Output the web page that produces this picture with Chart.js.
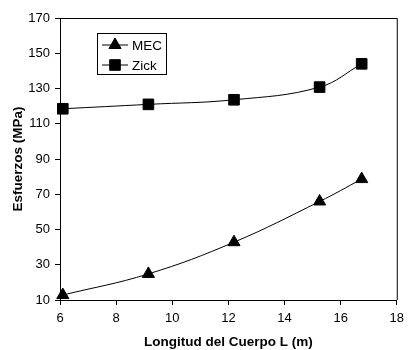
<!DOCTYPE html>
<html>
<head>
<meta charset="utf-8">
<script src="https://cdn.jsdelivr.net/npm/chart.js@4.4.0/dist/chart.umd.min.js"></script>
<style>
  html, body { margin: 0; padding: 0; background: #fff; }
  #wrap { width: 410px; height: 350px; position: relative; }
</style>
</head>
<body>
<div id="wrap"><canvas id="chart" width="410" height="350"></canvas></div>
<script>
// Data
const lengths = [6.1, 9.15, 12.2, 15.25, 16.75];
const mecValues = [12.8, 24.8, 42.8, 65.9, 78.6];
const zickValues = [118.5, 121, 123.6, 130.8, 144];
const xTicks = [6, 8, 10, 12, 14, 16, 18];
const yTicks = [10, 30, 50, 70, 90, 110, 130, 150, 170];

const FONT = 'Arial, "Liberation Sans", sans-serif';

const toPoints = (xs, ys) => xs.map((x, i) => ({ x: x, y: ys[i] }));

// plot frame (top + right edges)
const frame = {
    id: 'frame',
    afterDraw(chart) {
        const { ctx, chartArea: a } = chart;
        ctx.save();
        ctx.strokeStyle = '#000';
        ctx.lineWidth = 1;
        ctx.beginPath();
        ctx.moveTo(a.left, a.top + 0.5);
        ctx.lineTo(a.right + 0.5, a.top + 0.5);
        ctx.lineTo(a.right + 0.5, a.bottom);
        ctx.stroke();
        ctx.restore();
    }
};

// legend box with line + marker, like the original
const boxLegend = {
    id: 'boxLegend',
    afterDraw(chart) {
        const ctx = chart.ctx;
        const x0 = 97, y0 = 33, w = 69, h = 41;
        ctx.save();
        ctx.fillStyle = '#fff';
        ctx.fillRect(x0, y0, w, h);
        ctx.strokeStyle = '#000';
        ctx.lineWidth = 1;
        ctx.strokeRect(x0 + 0.5, y0 + 0.5, w, h);
        chart.data.datasets.forEach((ds, i) => {
            const cy = y0 + 12 + i * 20;
            ctx.beginPath();
            ctx.moveTo(x0 + 5, cy);
            ctx.lineTo(x0 + 31, cy);
            ctx.strokeStyle = '#000';
            ctx.stroke();
            ctx.fillStyle = '#000';
            Chart.helpers.drawPoint(ctx, {
                pointStyle: ds.pointStyle,
                radius: ds.pointRadius,
                borderWidth: 1
            }, x0 + 18, cy);
            ctx.font = '13.5px ' + FONT;
            ctx.textBaseline = 'middle';
            ctx.fillText(ds.label, x0 + 35, cy + 1);
        });
        ctx.restore();
    }
};

new Chart(document.getElementById('chart').getContext('2d'), {
    type: 'scatter',
    data: {
        datasets: [
            {
                label: 'MEC',
                data: toPoints(lengths, mecValues),
                showLine: true,
                tension: 0.4,
                borderColor: '#000',
                borderWidth: 1,
                pointStyle: 'triangle',
                pointRadius: 7,
                pointBackgroundColor: '#000',
                pointBorderColor: '#000'
            },
            {
                label: 'Zick',
                data: toPoints(lengths, zickValues),
                showLine: true,
                tension: 0.4,
                borderColor: '#000',
                borderWidth: 1,
                pointStyle: 'rect',
                pointRadius: 7.5,
                pointBackgroundColor: '#000',
                pointBorderColor: '#000'
            }
        ]
    },
    options: {
        responsive: false,
        animation: false,
        clip: false,
        layout: { padding: { left: 10, right: 8, top: 18, bottom: 0 } },
        plugins: {
            legend: { display: false },
            tooltip: { enabled: false }
        },
        scales: {
            x: {
                type: 'linear',
                min: xTicks[0],
                max: xTicks[xTicks.length - 1],
                afterBuildTicks: s => { s.ticks = xTicks.map(v => ({ value: v })); },
                afterFit: s => { s.height = 50; },
                grid: { drawOnChartArea: false, drawTicks: true, tickLength: 5, color: '#000' },
                border: { display: true, color: '#000', width: 1 },
                ticks: { color: '#000', font: { family: FONT, size: 13 }, padding: 6, maxRotation: 0 },
                title: {
                    display: true,
                    text: 'Longitud del Cuerpo L (m)',
                    color: '#000',
                    font: { family: FONT, size: 13.5, weight: 'bold' },
                    padding: { top: 1, bottom: 0 }
                }
            },
            y: {
                type: 'linear',
                min: yTicks[0],
                max: yTicks[yTicks.length - 1],
                afterBuildTicks: s => { s.ticks = yTicks.map(v => ({ value: v })); },
                afterFit: s => { s.width = 50; },
                grid: { drawOnChartArea: false, drawTicks: true, tickLength: 5, color: '#000' },
                border: { display: true, color: '#000', width: 1 },
                ticks: { color: '#000', font: { family: FONT, size: 13 }, padding: 5 },
                title: {
                    display: true,
                    text: 'Esfuerzos (MPa)',
                    color: '#000',
                    font: { family: FONT, size: 13.5, weight: 'bold' },
                    padding: { top: 0, bottom: 4 }
                }
            }
        }
    },
    plugins: [frame, boxLegend]
});
</script>
</body>
</html>
